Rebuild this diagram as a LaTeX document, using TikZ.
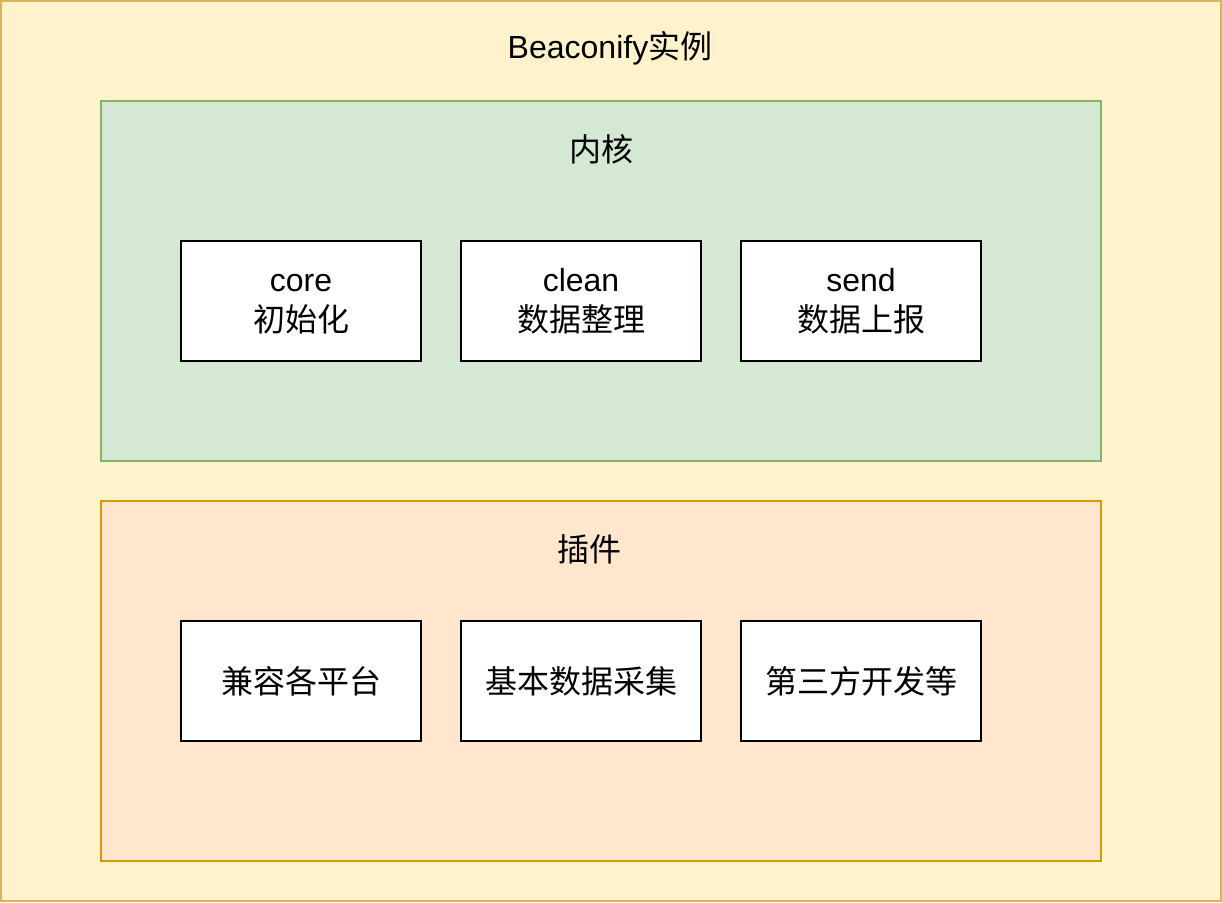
\documentclass[tikz,border=0pt]{standalone}
\usepackage{fontspec}
\setmainfont{Liberation Sans}
\newfontfamily\cjk{Noto Sans CJK SC}
\definecolor{outerfill}{HTML}{FFF2CC}
\definecolor{outerdraw}{HTML}{D6B656}
\definecolor{greenfill}{HTML}{D5E8D4}
\definecolor{greendraw}{HTML}{82B366}
\definecolor{orangefill}{HTML}{FFE6CC}
\definecolor{orangedraw}{HTML}{D79B00}
\newcommand{\lh}{\vphantom{lg}}
\begin{document}
\begin{tikzpicture}[x=1pt,y=-1pt,
  lbl/.style={font=\fontsize{32}{40}\selectfont, inner sep=0pt, align=center},
  itembox/.style={draw=black, line width=2pt, fill=white, minimum width=240pt, minimum height=120pt, inner sep=0pt, align=center, font=\fontsize{32}{40}\selectfont}]
\useasboundingbox (0,0) rectangle (1222,902);
\draw[fill=outerfill, draw=outerdraw, line width=2pt] (1,1) rectangle (1221,901);
\node[lbl] (title) at (610,48) {Beaconify{\cjk 实例}};
\draw[fill=greenfill, draw=greendraw, line width=2pt] (101,101) rectangle (1101,461);
\node[lbl] (kernel) at (601,149) {\cjk 内核};
\draw[fill=orangefill, draw=orangedraw, line width=2pt] (101,501) rectangle (1101,861);
\node[lbl] (plugin) at (589,549) {\cjk 插件};
\node[itembox] (core) at (301,301) {core\lh\\{\cjk 初始化}};
\node[itembox] (clean) at (581,301) {clean\lh\\{\cjk 数据整理}};
\node[itembox] (send) at (861,301) {send\lh\\{\cjk 数据上报}};
\node[itembox] (compat) at (301,681) {\cjk 兼容各平台};
\node[itembox] (collect) at (581,681) {\cjk 基本数据采集};
\node[itembox] (third) at (861,681) {\cjk 第三方开发等};
\end{tikzpicture}
\end{document}
